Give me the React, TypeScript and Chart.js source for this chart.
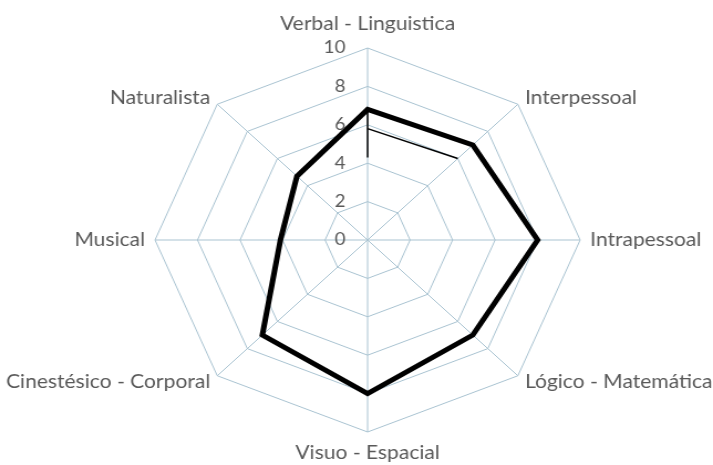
import React, { useEffect, useRef } from "react";
import { Chart, registerables } from "chart.js";

Chart.register(...registerables);

const categories = [
  "Verbal - Linguistica",
  "Interpessoal",
  "Intrapessoal",
  "Lógico - Matemática",
  "Visuo - Espacial",
  "Cinestésico - Corporal",
  "Musical",
  "Naturalista",
];
const mainSeries = [6.8, 7.0, 8.0, 7.0, 8.0, 7.0, 4.1, 4.7];
const thinSeries = [5.8, 6.0, null, null, null, null, null, null];
const verbalMarkRange = [4.3, 6.8];
const tickValues = [0, 2, 4, 6, 8, 10];

const TEXT = "#595959";
const GRID = "#a9c3d1";
const FONT = "Lato, 'Open Sans', sans-serif";

const labelPlugin = {
  id: "customLabels",
  afterDatasetsDraw(chart: any) {
    const scale = chart.scales.r;
    const ctx = chart.ctx;
    ctx.save();
    // thin vertical mark on the first axis
    const a = scale.getPointPositionForValue(0, verbalMarkRange[0]);
    const b = scale.getPointPositionForValue(0, verbalMarkRange[1]);
    ctx.strokeStyle = "#000";
    ctx.lineWidth = 1.5;
    ctx.beginPath();
    ctx.moveTo(a.x, a.y);
    ctx.lineTo(b.x, b.y);
    ctx.stroke();

    // tick labels
    ctx.fillStyle = TEXT;
    ctx.font = `17px ${FONT}`;
    ctx.textAlign = "right";
    ctx.textBaseline = "middle";
    tickValues.forEach((v) => {
      const d = scale.getDistanceFromCenterForValue(v);
      ctx.fillText(String(v), scale.xCenter - 20, scale.yCenter - d);
    });

    // point labels
    ctx.font = `19px ${FONT}`;
    categories.forEach((lab, i) => {
      const p = scale.getPointPosition(i, scale.drawingArea + 9);
      let x = p.x;
      let y = p.y;
      const dx = p.x - scale.xCenter;
      if (Math.abs(dx) < 1) {
        ctx.textAlign = "center";
        y += p.y < scale.yCenter ? -15 : 12;
      } else {
        ctx.textAlign = dx > 0 ? "left" : "right";
      }
      ctx.textBaseline = "middle";
      ctx.fillText(lab, x, y);
    });
    ctx.restore();
  },
};

export default function App() {
  const ref = useRef<HTMLCanvasElement>(null);
  useEffect(() => {
    document.body.style.margin = "0";
    const chart = new Chart(ref.current as HTMLCanvasElement, {
      type: "radar",
      data: {
        labels: categories,
        datasets: [
          {
            data: mainSeries,
            borderColor: "#000",
            backgroundColor: "rgba(0,0,0,0)",
            borderWidth: 5,
            fill: false,
            pointRadius: 0,
            pointHoverRadius: 0,
          },
          {
            data: thinSeries as any,
            borderColor: "#000",
            backgroundColor: "rgba(0,0,0,0)",
            borderWidth: 1.5,
            fill: false,
            spanGaps: false,
            pointRadius: 0,
            pointHoverRadius: 0,
          },
        ],
      },
      options: {
        responsive: false,
        devicePixelRatio: 1,
        animation: false,
        layout: { padding: { left: 140, right: 120, top: 48, bottom: 33 } },
        plugins: { legend: { display: false }, tooltip: { enabled: false } },
        scales: {
          r: {
            min: 0,
            max: 10,
            ticks: { display: false, stepSize: 2 },
            grid: { color: GRID, lineWidth: 1 },
            angleLines: { color: GRID, lineWidth: 1 },
            pointLabels: { display: false },
          },
        },
      },
      plugins: [labelPlugin],
    });
    return () => chart.destroy();
  }, []);
  return (
    <canvas
      ref={ref}
      width={644}
      height={465}
      style={{ display: "block", width: "713px", height: "465px" }}
    />
  );
}
